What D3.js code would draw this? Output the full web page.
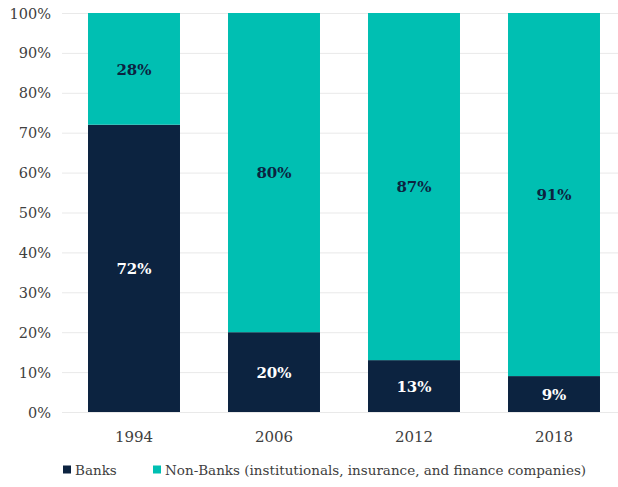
<!DOCTYPE html>
<html>
<head>
<meta charset="utf-8">
<script src="https://cdn.jsdelivr.net/npm/d3@7"></script>
<style>
  html, body { margin: 0; padding: 0; background: #fff; }
  svg { display: block; }
  text { font-family: "DejaVu Serif", "Liberation Serif", serif; }
</style>
</head>
<body>
<svg id="chart" width="618" height="487"></svg>
<script>
// Market share by lender type, in percent
const years = ["1994", "2006", "2012", "2018"];
const banks = [72, 20, 13, 9];
const nonBanks = [28, 80, 87, 91];
const yTicks = [0, 10, 20, 30, 40, 50, 60, 70, 80, 90, 100];
const seriesNames = ["Banks", "Non-Banks (institutionals, insurance, and finance companies)"];
const colors = ["#0c2340", "#00bfb2"];
const labelColors = ["#ffffff", "#0c2340"];

const svg = d3.select("#chart");
const W = 618;

const x = d3.scaleBand()
  .domain(years)
  .range([64, 624])
  .paddingInner(0.343)
  .paddingOuter(0.1715);

const y = d3.scaleLinear()
  .domain([0, 100])
  .range([412, 13]);

// gridlines
svg.append("g")
  .selectAll("line")
  .data(yTicks)
  .join("line")
  .attr("x1", 62)
  .attr("x2", W)
  .attr("y1", d => y(d) + 0.5)
  .attr("y2", d => y(d) + 0.5)
  .attr("stroke", "#e9e9e9")
  .attr("stroke-width", 1);

// y-axis labels
const yAxis = d3.axisLeft(y)
  .tickValues(yTicks)
  .tickFormat(d => d + "%")
  .tickSize(0)
  .tickPadding(0);
const yg = svg.append("g").attr("transform", "translate(51,0)").call(yAxis);
yg.select(".domain").remove();
yg.selectAll("text")
  .attr("fill", "#404040")
  .style("font-size", "14.5px")
  .style("font-family", "'DejaVu Serif', serif")
  .attr("dy", "0.35em");

// stacked data
const rows = years.map((yr, i) => ({ year: yr, Banks: banks[i], NonBanks: nonBanks[i] }));
const stack = d3.stack().keys(["Banks", "NonBanks"]);
const stacked = stack(rows);

const groups = svg.append("g")
  .selectAll("g")
  .data(stacked)
  .join("g")
  .attr("fill", (d, i) => colors[i]);

groups.selectAll("rect")
  .data(d => d)
  .join("rect")
  .attr("x", d => x(d.data.year))
  .attr("width", x.bandwidth())
  .attr("y", d => y(d[1]))
  .attr("height", d => y(d[0]) - y(d[1]));

// value labels
stacked.forEach((s, si) => {
  svg.append("g")
    .selectAll("text")
    .data(s)
    .join("text")
    .attr("x", d => x(d.data.year) + x.bandwidth() / 2)
    .attr("y", d => (y(d[0]) + y(d[1])) / 2)
    .attr("dy", "0.38em")
    .attr("text-anchor", "middle")
    .attr("fill", labelColors[si])
    .style("font-weight", "bold")
    .style("font-size", "15px")
    .text(d => (d[1] - d[0]) + "%");
});

// x-axis labels
const xAxis = d3.axisBottom(x).tickSize(0).tickPadding(0);
const xg = svg.append("g").attr("transform", "translate(0,437)").call(xAxis);
xg.select(".domain").remove();
xg.selectAll("text")
  .attr("fill", "#404040")
  .attr("dy", "0.35em")
  .style("font-size", "15px")
  .style("font-family", "'DejaVu Serif', serif");

// legend
const legend = svg.append("g").attr("transform", "translate(63,470)");
const legendX = [0, 90];
seriesNames.forEach((name, i) => {
  const g = legend.append("g").attr("transform", `translate(${legendX[i]},0)`);
  g.append("rect")
    .attr("x", 0).attr("y", -4.5)
    .attr("width", 8).attr("height", 8)
    .attr("fill", colors[i]);
  g.append("text")
    .attr("x", 12)
    .attr("y", 0)
    .attr("dy", "0.35em")
    .attr("fill", "#404040")
    .style("font-size", "13.5px")
    .text(name);
});
</script>
</body>
</html>
